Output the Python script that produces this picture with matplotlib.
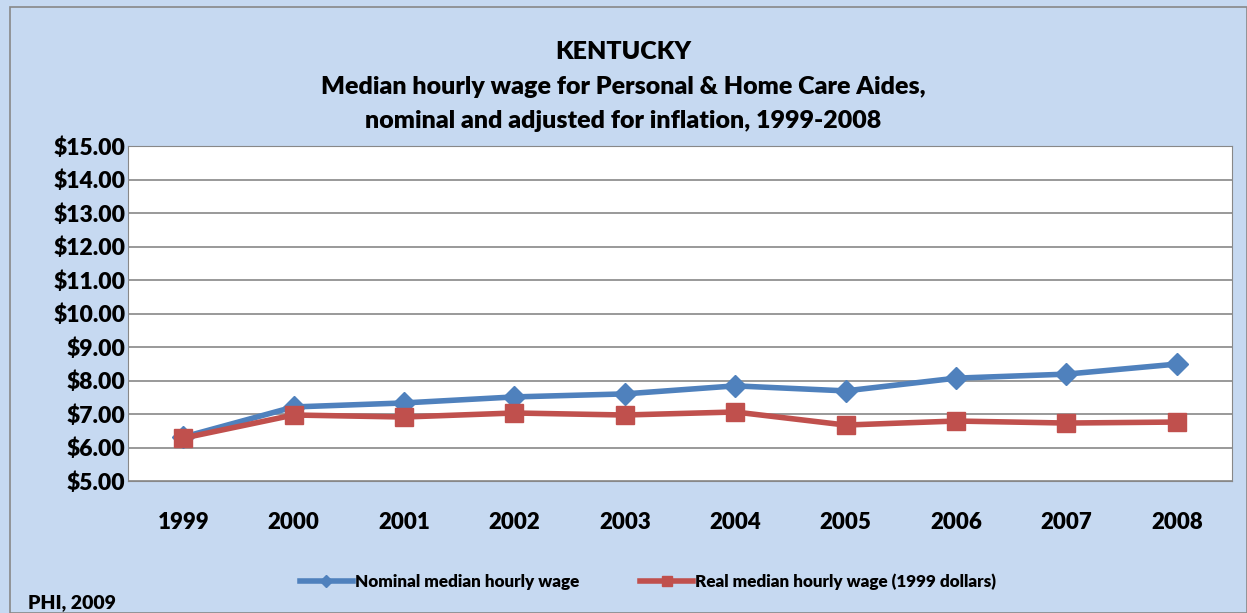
import matplotlib
matplotlib.use('Agg')
import matplotlib.pyplot as plt
from matplotlib.patches import Rectangle

plt.rcParams['font.family'] = ['Lato', 'DejaVu Sans']
plt.rcParams['font.weight'] = 'bold'

years = ['1999', '2000', '2001', '2002', '2003', '2004', '2005', '2006', '2007', '2008']
nominal = [6.31, 7.21, 7.33, 7.51, 7.60, 7.84, 7.69, 8.07, 8.19, 8.49]
real = [6.28, 6.97, 6.91, 7.03, 6.97, 7.06, 6.67, 6.79, 6.73, 6.76]
yticks = [5, 6, 7, 8, 9, 10, 11, 12, 13, 14, 15]

bg = '#C6D9F1'
W, H = 1247, 613
fig = plt.figure(figsize=(W/100, H/100), dpi=100, facecolor=bg)
fig.patches.append(Rectangle((10/W, 0), 1 - 10/W, 1 - 7/H, transform=fig.transFigure,
                             fill=False, edgecolor='#888888', lw=1.2))

ax = fig.add_axes([128/W, 1 - 481/H, (1232-128)/W, (481-146)/H])
ax.set_facecolor('white')
x = list(range(len(years)))
ax.plot(x, nominal, color='#4F81BD', lw=4, marker='D', ms=11, label='Nominal median hourly wage')
ax.plot(x, real, color='#C0504D', lw=4, marker='s', ms=13, label='Real median hourly wage (1999 dollars)')

ax.set_xlim(-0.5, len(years) - 0.5)
ax.set_ylim(5, 15)
ax.set_yticks(yticks)
ax.set_yticklabels(['$%.2f' % v for v in yticks], fontsize=16.5, fontweight='heavy')
ax.set_xticks(x)
ax.set_xticklabels(years, fontsize=16, fontweight='heavy')
ax.tick_params(length=0, pad=22, axis='x')
ax.tick_params(length=0, pad=2, axis='y')
ax.grid(axis='y', color='#888888', lw=1.2)
ax.set_axisbelow(True)
for s in ax.spines.values():
    s.set_color('#888888')

tkw = dict(ha='center', va='center', fontsize=18, fontweight='heavy')
fig.text(0.5, 1 - 52/H, 'KENTUCKY', **tkw)
fig.text(0.5, 1 - 87/H, 'Median hourly wage for Personal & Home Care Aides,', **tkw)
fig.text(0.5, 1 - 121/H, 'nominal and adjusted for inflation, 1999-2008', **tkw)
fig.text(28/W, 1 - 603/H, 'PHI, 2009', ha='left', va='center', fontsize=14, fontweight='heavy')

leg = fig.legend(loc='center', bbox_to_anchor=(648/W, 1 - 582/H), ncol=2, frameon=False,
                 prop={'size': 12.3, 'weight': 'heavy'}, markerscale=0.6,
                 handlelength=3.1, columnspacing=3.6, handletextpad=0.1)

fig.savefig('out.png', dpi=100, facecolor=bg)
